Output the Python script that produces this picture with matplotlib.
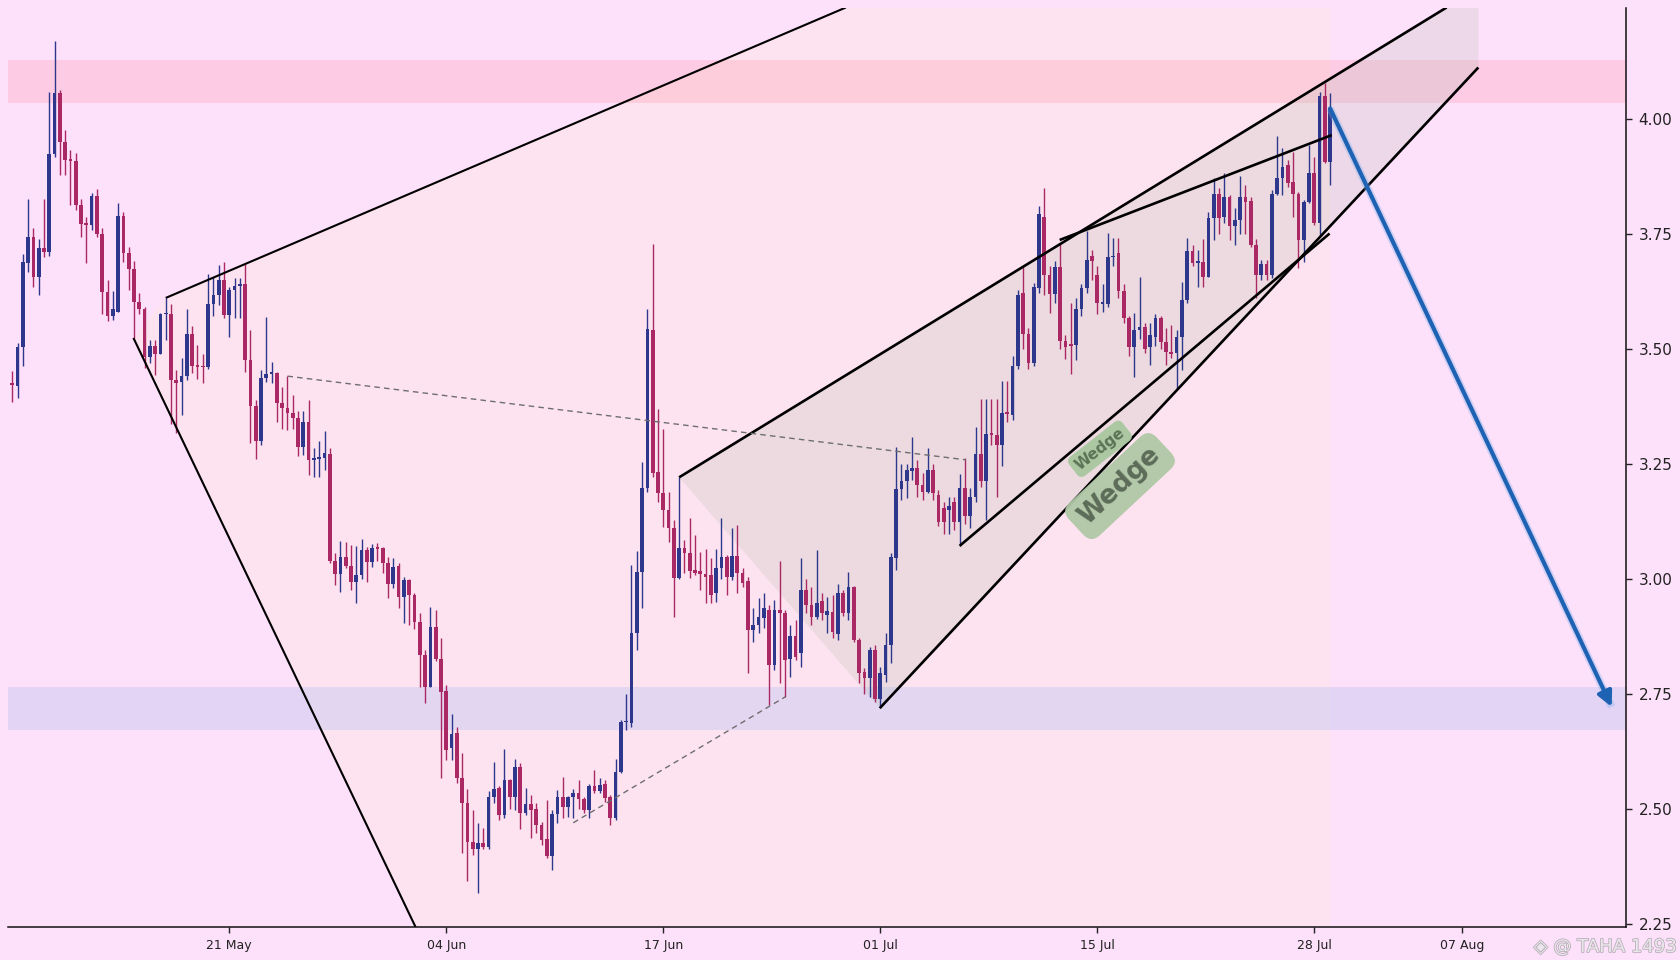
import numpy as np
import matplotlib.pyplot as plt
from matplotlib.patches import Polygon
import matplotlib.patheffects as pe

# 8h candles, x axis is the candle index
opens = [
    3.424, 3.419, 3.504, 3.685, 3.742, 3.656, 3.718, 3.709, 3.922, 4.055,
    3.948, 3.910, 3.908, 3.812, 3.771, 3.768, 3.832, 3.750, 3.623, 3.571,
    3.580, 3.788, 3.707, 3.672, 3.602, 3.585, 3.481, 3.506, 3.489, 3.574,
    3.576, 3.432, 3.428, 3.440, 3.531, 3.462, 3.460, 3.459, 3.597, 3.616,
    3.650, 3.573, 3.627, 3.636, 3.640, 3.474, 3.375, 3.300, 3.437, 3.444,
    3.446, 3.381, 3.370, 3.359, 3.350, 3.287, 3.341, 3.258, 3.260, 3.263,
    3.271, 3.039, 3.010, 3.046, 3.028, 2.993, 3.008, 3.063, 3.035, 3.066,
    3.066, 3.033, 2.989, 3.027, 2.960, 2.997, 2.964, 2.906, 2.834, 2.765,
    2.895, 2.824, 2.756, 2.631, 2.665, 2.566, 2.511, 2.428, 2.413, 2.426,
    2.417, 2.526, 2.544, 2.486, 2.562, 2.526, 2.590, 2.491, 2.509, 2.498,
    2.464, 2.433, 2.397, 2.489, 2.524, 2.504, 2.524, 2.533, 2.520, 2.497,
    2.549, 2.539, 2.553, 2.526, 2.479, 2.580, 2.687, 2.685, 2.881, 3.015,
    3.196, 3.540, 3.232, 3.185, 3.149, 3.109, 3.002, 3.066, 3.056, 3.018,
    3.017, 3.010, 3.008, 2.968, 3.022, 3.046, 3.004, 3.049, 3.011, 2.995,
    2.888, 2.899, 2.914, 2.931, 2.812, 2.931, 2.926, 2.826, 2.874, 2.837,
    2.976, 2.942, 2.917, 2.952, 2.921, 2.928, 2.880, 2.969, 2.924, 2.982,
    2.866, 2.797, 2.783, 2.845, 2.739, 2.790, 2.855, 3.044, 3.194, 3.211,
    3.233, 3.240, 3.203, 3.189, 3.237, 3.181, 3.154, 3.150, 3.166, 3.123,
    3.197, 3.135, 3.178, 3.271, 3.213, 3.315, 3.313, 3.290, 3.360, 3.356,
    3.463, 3.620, 3.531, 3.469, 3.632, 3.787, 3.659, 3.618, 3.678, 3.517,
    3.508, 3.508, 3.587, 3.632, 3.702, 3.659, 3.597, 3.597, 3.698, 3.708,
    3.626, 3.566, 3.504, 3.540, 3.546, 3.504, 3.526, 3.566, 3.515, 3.493,
    3.490, 3.526, 3.605, 3.711, 3.686, 3.689, 3.656, 3.783, 3.837, 3.787,
    3.830, 3.766, 3.779, 3.830, 3.821, 3.725, 3.660, 3.684, 3.660, 3.837,
    3.870, 3.899, 3.861, 3.837, 3.736, 3.819, 3.881, 3.772, 4.048, 3.906,
]
highs = [
    3.452, 3.513, 3.705, 3.824, 3.763, 3.739, 3.824, 4.058, 4.169, 4.063,
    3.976, 3.932, 3.924, 3.824, 3.787, 3.839, 3.846, 3.763, 3.649, 3.624,
    3.817, 3.797, 3.721, 3.690, 3.620, 3.591, 3.518, 3.518, 3.578, 3.610,
    3.597, 3.453, 3.479, 3.587, 3.549, 3.508, 3.489, 3.662, 3.656, 3.682,
    3.689, 3.634, 3.653, 3.653, 3.684, 3.540, 3.388, 3.453, 3.569, 3.470,
    3.450, 3.417, 3.440, 3.399, 3.365, 3.365, 3.388, 3.283, 3.300, 3.321,
    3.283, 3.056, 3.082, 3.080, 3.073, 3.071, 3.085, 3.069, 3.076, 3.078,
    3.069, 3.047, 3.044, 3.033, 3.003, 3.000, 2.969, 2.924, 2.845, 2.939,
    2.932, 2.870, 2.768, 2.705, 2.678, 2.620, 2.542, 2.497, 2.468, 2.457,
    2.537, 2.602, 2.548, 2.629, 2.565, 2.607, 2.598, 2.544, 2.529, 2.511,
    2.471, 2.518, 2.497, 2.540, 2.569, 2.527, 2.542, 2.562, 2.526, 2.553,
    2.584, 2.566, 2.562, 2.529, 2.607, 2.692, 2.748, 3.029, 3.060, 3.254,
    3.587, 3.727, 3.368, 3.324, 3.189, 3.127, 3.220, 3.084, 3.131, 3.094,
    3.058, 3.065, 3.044, 3.065, 3.131, 3.051, 3.109, 3.116, 3.022, 3.004,
    2.935, 2.957, 2.968, 2.942, 2.953, 3.037, 2.931, 2.899, 2.910, 3.044,
    3.000, 2.982, 3.062, 2.968, 2.960, 2.964, 2.989, 2.975, 3.015, 2.984,
    2.870, 2.805, 2.852, 2.855, 2.808, 2.881, 3.055, 3.287, 3.250, 3.250,
    3.308, 3.258, 3.229, 3.283, 3.250, 3.193, 3.166, 3.178, 3.178, 3.228,
    3.261, 3.197, 3.329, 3.391, 3.391, 3.391, 3.390, 3.430, 3.430, 3.484,
    3.627, 3.678, 3.545, 3.642, 3.810, 3.849, 3.680, 3.690, 3.729, 3.530,
    3.600, 3.610, 3.640, 3.756, 3.715, 3.680, 3.640, 3.752, 3.740, 3.740,
    3.640, 3.570, 3.577, 3.655, 3.555, 3.555, 3.575, 3.570, 3.544, 3.551,
    3.540, 3.645, 3.740, 3.725, 3.714, 3.739, 3.797, 3.870, 3.848, 3.881,
    3.834, 3.805, 3.874, 3.856, 3.830, 3.739, 3.692, 3.692, 3.844, 3.961,
    3.935, 3.910, 3.928, 3.841, 3.823, 3.942, 3.917, 4.058, 4.077, 4.056,
]
lows = [
    3.384, 3.392, 3.463, 3.667, 3.634, 3.616, 3.700, 3.702, 3.917, 3.877,
    3.877, 3.812, 3.801, 3.743, 3.687, 3.758, 3.743, 3.576, 3.560, 3.563,
    3.580, 3.689, 3.627, 3.523, 3.576, 3.457, 3.468, 3.442, 3.488, 3.518,
    3.337, 3.316, 3.355, 3.432, 3.446, 3.433, 3.424, 3.455, 3.571, 3.595,
    3.566, 3.526, 3.566, 3.566, 3.450, 3.295, 3.259, 3.290, 3.428, 3.424,
    3.341, 3.326, 3.323, 3.326, 3.266, 3.268, 3.225, 3.221, 3.221, 3.236,
    3.033, 2.986, 2.970, 3.022, 2.975, 2.946, 3.000, 2.993, 3.026, 3.037,
    3.011, 2.957, 2.979, 2.935, 2.904, 2.899, 2.890, 2.765, 2.730, 2.765,
    2.820, 2.566, 2.605, 2.605, 2.555, 2.403, 2.343, 2.399, 2.316, 2.411,
    2.413, 2.511, 2.475, 2.479, 2.500, 2.497, 2.455, 2.486, 2.435, 2.446,
    2.421, 2.392, 2.366, 2.468, 2.479, 2.482, 2.479, 2.500, 2.491, 2.479,
    2.533, 2.533, 2.515, 2.464, 2.475, 2.577, 2.671, 2.678, 2.845, 2.935,
    3.189, 3.221, 3.167, 3.113, 3.080, 2.917, 3.000, 3.011, 3.002, 3.008,
    2.975, 2.947, 2.946, 2.950, 3.000, 2.964, 2.997, 2.968, 2.982, 2.794,
    2.863, 2.881, 2.892, 2.725, 2.801, 2.772, 2.743, 2.785, 2.823, 2.808,
    2.924, 2.899, 2.913, 2.910, 2.881, 2.870, 2.866, 2.918, 2.910, 2.863,
    2.772, 2.750, 2.743, 2.732, 2.722, 2.776, 2.816, 3.018, 3.171, 3.174,
    3.214, 3.178, 3.171, 3.185, 3.170, 3.115, 3.096, 3.096, 3.105, 3.071,
    3.119, 3.110, 3.166, 3.200, 3.127, 3.290, 3.178, 3.244, 3.340, 3.345,
    3.455, 3.500, 3.455, 3.462, 3.620, 3.617, 3.577, 3.600, 3.500, 3.477,
    3.445, 3.475, 3.570, 3.620, 3.650, 3.574, 3.580, 3.590, 3.680, 3.610,
    3.555, 3.484, 3.438, 3.520, 3.490, 3.465, 3.505, 3.500, 3.464, 3.479,
    3.413, 3.453, 3.598, 3.680, 3.634, 3.634, 3.655, 3.736, 3.750, 3.772,
    3.736, 3.725, 3.750, 3.750, 3.721, 3.609, 3.649, 3.649, 3.653, 3.834,
    3.834, 3.852, 3.787, 3.674, 3.689, 3.816, 3.769, 3.747, 3.903, 3.855,
]
closes = [
    3.421, 3.504, 3.689, 3.742, 3.656, 3.718, 3.709, 3.922, 4.055, 3.948,
    3.910, 3.908, 3.812, 3.771, 3.768, 3.832, 3.750, 3.623, 3.571, 3.585,
    3.788, 3.707, 3.672, 3.602, 3.585, 3.481, 3.506, 3.489, 3.574, 3.576,
    3.432, 3.426, 3.440, 3.531, 3.462, 3.460, 3.459, 3.597, 3.616, 3.650,
    3.573, 3.627, 3.636, 3.637, 3.474, 3.375, 3.300, 3.437, 3.444, 3.446,
    3.381, 3.370, 3.359, 3.350, 3.287, 3.341, 3.258, 3.260, 3.263, 3.272,
    3.039, 3.010, 3.046, 3.028, 2.993, 3.008, 3.063, 3.035, 3.066, 3.064,
    3.033, 2.989, 3.024, 2.960, 2.997, 2.964, 2.906, 2.834, 2.765, 2.895,
    2.824, 2.754, 2.627, 2.663, 2.566, 2.511, 2.428, 2.413, 2.426, 2.417,
    2.526, 2.542, 2.486, 2.562, 2.526, 2.590, 2.491, 2.509, 2.497, 2.464,
    2.432, 2.397, 2.489, 2.524, 2.504, 2.524, 2.533, 2.520, 2.497, 2.549,
    2.539, 2.551, 2.522, 2.479, 2.580, 2.687, 2.690, 2.881, 3.015, 3.196,
    3.542, 3.229, 3.185, 3.149, 3.109, 3.002, 3.066, 3.056, 3.017, 3.011,
    3.010, 3.004, 2.964, 3.022, 3.046, 3.004, 3.049, 3.011, 2.991, 2.889,
    2.899, 2.917, 2.935, 2.812, 2.931, 2.926, 2.823, 2.874, 2.830, 2.976,
    2.942, 2.917, 2.946, 2.924, 2.930, 2.884, 2.969, 2.924, 2.981, 2.866,
    2.794, 2.783, 2.845, 2.739, 2.794, 2.855, 3.047, 3.194, 3.211, 3.237,
    3.240, 3.203, 3.189, 3.237, 3.185, 3.123, 3.123, 3.158, 3.123, 3.197,
    3.135, 3.178, 3.271, 3.213, 3.315, 3.313, 3.290, 3.360, 3.358, 3.463,
    3.616, 3.531, 3.469, 3.633, 3.793, 3.659, 3.618, 3.678, 3.517, 3.504,
    3.506, 3.587, 3.632, 3.692, 3.690, 3.599, 3.602, 3.698, 3.700, 3.626,
    3.566, 3.504, 3.540, 3.546, 3.500, 3.530, 3.566, 3.515, 3.493, 3.489,
    3.526, 3.605, 3.711, 3.685, 3.689, 3.656, 3.783, 3.837, 3.783, 3.830,
    3.766, 3.779, 3.830, 3.819, 3.725, 3.660, 3.684, 3.660, 3.837, 3.870,
    3.895, 3.859, 3.837, 3.736, 3.819, 3.881, 3.772, 4.048, 3.906, 4.022,
]

tick_idx = [41, 82, 123, 164, 205, 246, 274]
tick_labels = ['21 May', '04 Jun', '17 Jun', '01 Jul', '15 Jul', '28 Jul', '07 Aug']
price_ticks = [2.25, 2.50, 2.75, 3.00, 3.25, 3.50, 3.75, 4.00]

supply_zone = (4.034, 4.128)
demand_zone = (2.671, 2.764)

# drawing anchors as (candle index, price)
broad_upper = [(29.0, 3.610), (157.5, 4.2414)]
broad_lower = [(22.9, 3.523), (76.2, 2.2424)]
wedge_upper = [(126.0, 3.220), (271.0, 4.2414)]
wedge_lower = [(163.9, 2.718), (277.0, 4.111)]
inner_upper = [(197.9, 3.736), (249.3, 3.964)]
inner_lower = [(179.0, 3.071), (248.9, 3.750)]
dash_top = [(52.0, 3.440), (180.2, 3.258)]
dash_bottom = [(106.0, 2.469), (146.1, 2.743)]
target_arrow = [(249.0, 4.022), (302.2, 2.721)]
last_idx = 249

BG = '#fde0f9'
PINK = '#fde3ef'
UP = '#2d378c'
DOWN = '#aa2864'

x_lo, x_hi = -0.8, 304.9
y_lo, y_hi = 2.2424, 4.2414

fig = plt.figure(figsize=(16.8, 9.6), dpi=100, facecolor=BG)
ax = fig.add_axes([8 / 1680, 1 - 927 / 960, (1626 - 8) / 1680, (927 - 7.5) / 960])
ax.set_facecolor(BG)

# pink range behind the broadening pattern
pink_poly = [broad_lower[0], broad_upper[0], broad_upper[1],
             (last_idx, y_hi), (last_idx, y_lo), broad_lower[1]]
ax.add_patch(Polygon(pink_poly, closed=True, fc=PINK, ec='none', zorder=0.5))

ax.axhspan(*supply_zone, color='#ffa8bd', alpha=0.36, lw=0, zorder=1)
ax.axhspan(*demand_zone, color='#c8c8f4', alpha=0.48, lw=0, zorder=1)

wedge_poly = [wedge_upper[0], wedge_upper[1], (wedge_lower[1][0], y_hi),
              wedge_lower[1], wedge_lower[0]]
ax.add_patch(Polygon(wedge_poly, closed=True, fc='#a8b8a8', ec='none', alpha=0.2, zorder=1.5))

# candles
o = np.array(opens)
h = np.array(highs)
l = np.array(lows)
c = np.array(closes)
idx = np.arange(len(o))
cols = np.where(c >= o, UP, DOWN)
ax.vlines(idx, l, h, colors=cols, lw=1.0, zorder=3)
body = np.maximum(np.abs(c - o), 0.004)
ax.bar(idx, body, bottom=np.minimum(o, c), width=0.7, color=cols, lw=0, zorder=3)

# pattern lines
for pts, lw in [(broad_upper, 1.5), (broad_lower, 1.5),
                (wedge_upper, 1.9), (wedge_lower, 1.9),
                (inner_upper, 1.9), (inner_lower, 1.9)]:
    xs, ys = zip(*pts)
    ax.plot(xs, ys, color='black', lw=lw, zorder=4, solid_capstyle='butt')

for pts in [dash_top, dash_bottom]:
    xs, ys = zip(*pts)
    ax.plot(xs, ys, color='#6e6e6e', lw=1.0, ls=(0, (4, 3)), zorder=4)

# target arrow
(ax0, ay0), (ax1, ay1) = target_arrow
ax.plot([ax0, ax1], [ay0, ay1], color='#7fb0e8', lw=5.5, alpha=0.35, zorder=4.5,
        solid_capstyle='butt')
ax.annotate('', xy=(ax1, ay1), xytext=(ax0, ay0), zorder=5,
            arrowprops=dict(arrowstyle='-|>', color='#1e62b4', lw=3,
                            mutation_scale=22, shrinkA=0, shrinkB=0))

# wedge labels
ax.text(209.3, 3.201, 'Wedge', rotation=43, rotation_mode='anchor',
        ha='center', va='center', fontsize=19, fontweight='bold', color='#5c6c58',
        bbox=dict(boxstyle='round,pad=0.35,rounding_size=0.45', fc='#afc8a6',
                  ec='none', alpha=0.95), zorder=6)
ax.text(205.5, 3.282, 'Wedge', rotation=38, rotation_mode='anchor',
        ha='center', va='center', fontsize=11, fontweight='bold', color='#5a7455',
        bbox=dict(boxstyle='round,pad=0.3,rounding_size=0.4', fc='#a9c8a0',
                  ec='none', alpha=0.95), zorder=6)

ax.set_xlim(x_lo, x_hi)
ax.set_ylim(y_lo, y_hi)
ax.set_xticks(tick_idx)
ax.set_xticklabels(tick_labels)
ax.set_yticks(price_ticks)
ax.set_yticklabels([f'{v:.2f}' for v in price_ticks])
ax.yaxis.tick_right()
ax.tick_params(axis='x', length=4, width=1, pad=5, labelsize=9, colors='#222222')
ax.tick_params(axis='y', length=4, width=1, pad=5, labelsize=11, colors='#222222')
for s in ['top', 'left']:
    ax.spines[s].set_visible(False)
for s in ['bottom', 'right']:
    ax.spines[s].set_linewidth(1.1)
    ax.spines[s].set_color('#111111')

# watermark, kept just below the 2.25 label
fig.text(0.998, 1 - 947 / 960, '◈ @ TAHA 1493', ha='right', va='center',
         fontsize=13, color='#ebe6ec',
         path_effects=[pe.withStroke(linewidth=1.2, foreground='#b9b0ba')])

fig.savefig('out.png', dpi=100, facecolor=BG)
